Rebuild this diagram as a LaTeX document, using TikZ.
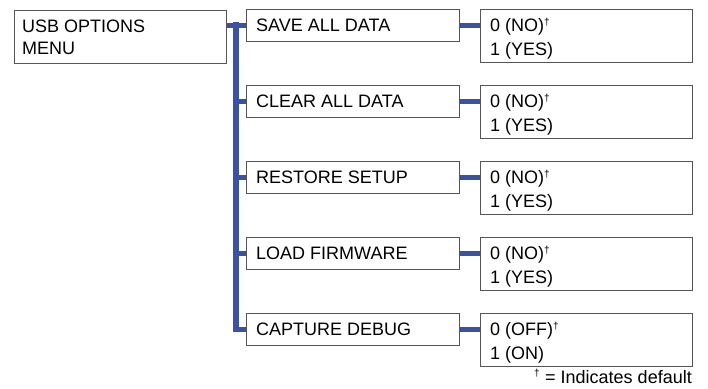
\documentclass[tikz,border=0pt]{standalone}
\usepackage{fontspec}
\setmainfont{Liberation Sans}
\definecolor{busblue}{HTML}{3B51A3}
\definecolor{boxgray}{HTML}{555555}
\newcommand{\dagsup}{\textsuperscript{\fontsize{10}{10}\selectfont†}}
\begin{document}
\begin{tikzpicture}[x=1pt,y=-1pt,
  frame/.style={draw=boxgray,line width=1.2pt,anchor=north west,inner sep=0pt},
  txt/.style={font=\fontsize{18}{22}\selectfont,inner sep=0pt,anchor=base west},
  bus/.style={draw=busblue,line width=5.5pt}]
\useasboundingbox (0,0) rectangle (708,388);
\node[frame,minimum width=212pt,minimum height=53pt] (menu) at (14,9.5) {};
\node[txt] (menut1) at (22,32.3) {USB OPTIONS};
\node[txt] (menut2) at (22,54.3) {MENU};
\foreach \i/\lab/\oa/\ob in {1/SAVE ALL DATA/0 (NO)/1 (YES),2/CLEAR ALL DATA/0 (NO)/1 (YES),3/RESTORE SETUP/0 (NO)/1 (YES),4/LOAD FIRMWARE/0 (NO)/1 (YES),5/CAPTURE DEBUG/0 (OFF)/1 (ON)}{
  \pgfmathsetmacro{\r}{9+76*(\i-1)}
  \node[frame,minimum width=213pt,minimum height=32pt] (m\i) at (246,\r) {};
  \node[txt] (mt\i) at (256,\r+22.5) {\lab};
  \node[frame,minimum width=212pt,minimum height=53pt] (o\i) at (480,\r) {};
  \node[txt] (oa\i) at (490,\r+22.7) {\oa\dagsup};
  \node[txt] (ob\i) at (490,\r+46) {\ob};
  \draw[bus] (m\i.east) -- (o\i.west |- m\i.east);
}
\coordinate (busx) at (236,22.25);
\draw[bus] (menu.east |- m1.west) -- (m1.west);
\draw[bus] (busx) -- (busx |- m5.west) -- (m5.west);
\foreach \i in {2,3,4}{\draw[bus] (busx |- m\i.west) -- (m\i.west);}
\node[txt,anchor=base east] (foot) at (692,383) {\dagsup\ = Indicates default};
\end{tikzpicture}
\end{document}
